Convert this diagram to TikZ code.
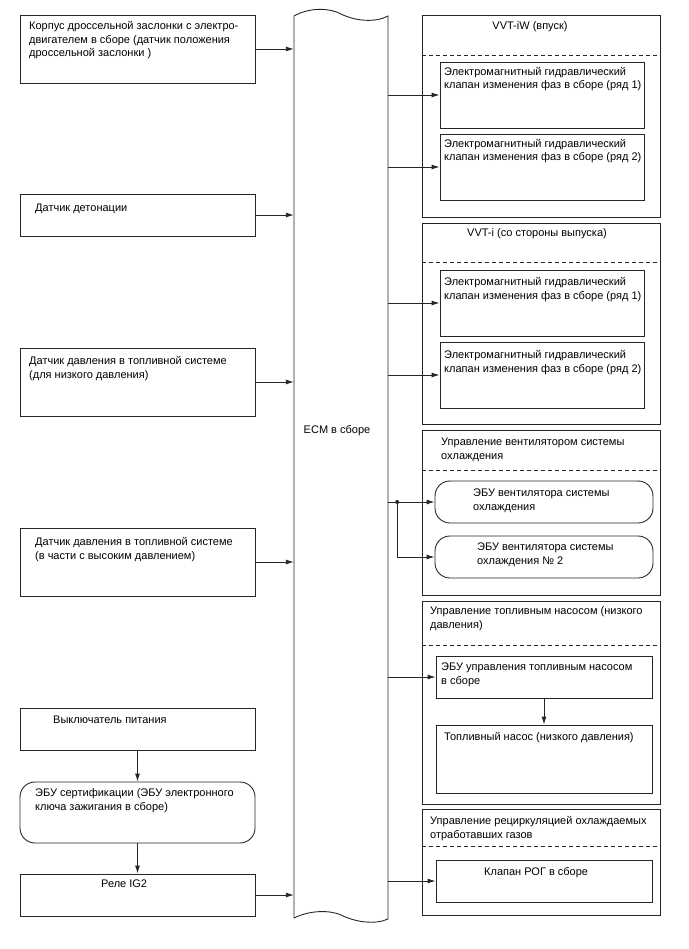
\documentclass[tikz,border=0pt]{standalone}
\usepackage{fontspec}
\setmainfont{Liberation Sans}
\usetikzlibrary{arrows.meta, positioning}

\begin{document}
\begin{tikzpicture}[x=1pt, y=-1pt,
        every node/.style={font=\fontsize{11}{13.5}\selectfont, inner sep=0pt},
        box/.style={rectangle, draw=black!85, line width=0.9pt},
        lbox/.style={box, minimum width=235pt, minimum height=#1},
        panel/.style={box, minimum width=238pt, minimum height=#1},
        valve/.style={box, minimum width=204pt, minimum height=66pt},
        sub/.style={box, minimum width=216pt, minimum height=#1},
        ecu/.style={box, rounded corners=15pt, minimum width=#1, minimum height=42pt},
        txt/.style={anchor=base west, align=left},
        title/.style={anchor=base},
        divider/.style={draw=black!85, line width=0.9pt, dash pattern=on 4pt off 3pt},
        arrow/.style={-{Latex[length=8pt,width=5pt]}, line width=0.9pt, draw=black!85}
    ]
    \useasboundingbox (0,0) rectangle (688,949);
%
    % ECM bar
    \draw[line width=0.9pt, draw=black!85] (294,918) -- (294,16)
        .. controls (310,7) and (330,8) .. (341,14)
        .. controls (355,21) and (375,23) .. (388,16) -- (388,919)
        .. controls (375,925) and (355,922) .. (341,915)
        .. controls (330,910) and (310,910) .. (294,918);
    \node[minimum width=94pt, minimum height=902pt] (ecm) at (341,467) {};
    \node (ecm_txt) at (337,431) {ECM в сборе};
%
    % Inputs (text nodes sit on the baseline of their last line)
    \node[lbox=68pt] (throttle) at (137.5,49) {};
    \node[txt] at (29,57) {Корпус дроссельной заслонки с электро-\\двигателем в сборе (датчик положения\\дроссельной заслонки )};
    \node[lbox=42pt] (knock) at (137.5,215) {};
    \node[txt] at (35,212) {Датчик детонации};
    \node[lbox=68pt] (fp_low) at (137.5,382) {};
    \node[txt] at (29,378) {Датчик давления в топливной системе\\(для низкого давления)};
    \node[lbox=68pt] (fp_high) at (137.5,562) {};
    \node[txt] at (35,559) {Датчик давления в топливной системе\\(в части с высоким давлением)};
    \node[lbox=42pt] (pwr) at (137.5,729) {};
    \node[txt] at (53,723) {Выключатель питания};
    \node[box, rounded corners=15pt, minimum width=235pt, minimum height=61pt] (cert) at (137.5,812.5) {};
    \node[txt] at (35,810) {ЭБУ сертификации (ЭБУ электронного\\ключа зажигания в сборе)};
    \node[lbox=42pt] (ig2) at (137.5,895) {};
    \node[txt] at (101,887) {Реле IG2};
%
    \foreach \n in {throttle, knock, fp_low, fp_high, ig2}
        \draw[arrow] (\n.east) -- (\n.east -| ecm.west);
    \draw[arrow] (pwr) -- (cert);
    \draw[arrow] (cert) -- (ig2);
%
    % VVT-iW
    \node[panel=202pt] (vvtiw) at (541,116) {};
    \node[title] at (530,30) {VVT-iW (впуск)};
    \draw[divider] ([yshift=-41pt]vvtiw.north west) -- ([yshift=-41pt]vvtiw.north east);
    \node[valve] (iw1) at (542,95) {};
    \node[txt] at (444,89) {Электромагнитный гидравлический\\клапан изменения фаз в сборе (ряд 1)};
    \node[valve] (iw2) at (542,167) {};
    \node[txt] at (444,161) {Электромагнитный гидравлический\\клапан изменения фаз в сборе (ряд 2)};
%
    % VVT-i
    \node[panel=201pt] (vvti) at (541,323.5) {};
    \node[title] at (537,237) {VVT-i (со стороны выпуска)};
    \draw[divider] ([yshift=-40pt]vvti.north west) -- ([yshift=-40pt]vvti.north east);
    \node[valve] (i1) at (542,303) {};
    \node[txt] at (444,299) {Электромагнитный гидравлический\\клапан изменения фаз в сборе (ряд 1)};
    \node[valve] (i2) at (542,375) {};
    \node[txt] at (444,372) {Электромагнитный гидравлический\\клапан изменения фаз в сборе (ряд 2)};
%
    % Cooling fan
    \node[panel=165pt] (fan) at (541,512.5) {};
    \node[txt] at (441,459) {Управление вентилятором системы\\охлаждения};
    \draw[divider] ([yshift=-41pt]fan.north west) -- ([yshift=-41pt]fan.north east);
    \node[ecu=218pt] (fan1) at (544,502) {};
    \node[txt] at (473,510) {ЭБУ вентилятора системы\\охлаждения};
    \node[ecu=218pt] (fan2) at (544,557) {};
    \node[txt] at (477,564) {ЭБУ вентилятора системы\\охлаждения № 2};
%
    % Fuel pump
    \node[panel=203pt] (pump) at (541,702.5) {};
    \node[txt] at (430,628) {Управление топливным насосом (низкого\\давления)};
    \draw[divider] ([yshift=-45pt]pump.north west) -- ([yshift=-45pt]pump.north east);
    \node[sub=42pt] (pump_ecu) at (544,677) {};
    \node[txt] at (441,684) {ЭБУ управления топливным насосом\\в сборе};
    \node[sub=68pt] (pump_low) at (544,759) {};
    \node[txt] at (444,740) {Топливный насос (низкого давления)};
%
    % EGR
    \node[panel=106pt] (egr) at (541,862) {};
    \node[txt] at (430,838) {Управление рециркуляцией охлаждаемых\\отработавших газов};
    \draw[divider] ([yshift=-38pt]egr.north west) -- ([yshift=-38pt]egr.north east);
    \node[sub=42pt] (egr_valve) at (544,881) {};
    \node[txt] at (484,875) {Клапан РОГ в сборе};
%
    % Outputs
    \foreach \n in {iw1, iw2, i1, i2, pump_ecu, egr_valve}
        \draw[arrow] (\n.west -| ecm.east) -- (\n.west);
    \coordinate (fork) at ([xshift=9pt]ecm.east |- fan1.west);
    \draw[line width=0.9pt, draw=black!85] (ecm.east |- fan1.west) -- (fork);
    \draw[arrow] (fork) -- (fan1.west);
    \draw[arrow] (fork) |- (fan2.west);
    \fill[black!85] (fork) circle (2pt);
    \draw[arrow] (pump_ecu) -- (pump_low);
%
\end{tikzpicture}
\end{document}
